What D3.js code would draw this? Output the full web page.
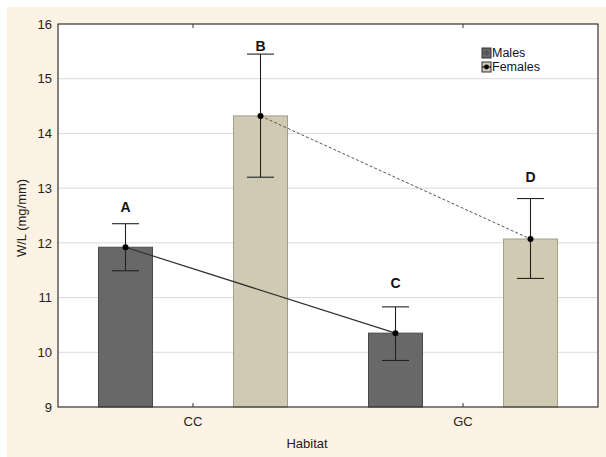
<!DOCTYPE html>
<html>
<head>
<meta charset="utf-8">
<script src="https://cdn.jsdelivr.net/npm/d3@7"></script>
<style>
	body { margin: 0; background: #fff; }
	text { font-family: "Liberation Sans", Arial, sans-serif; }
</style>
</head>
<body>
<div class="chart"></div>
<script>
// data
var habitats = ['CC', 'GC'];
var series = ['Males', 'Females'];
var maleMean = [11.92, 10.35];
var maleLow = [11.49, 9.85];
var maleHigh = [12.35, 10.83];
var femaleMean = [14.32, 12.07];
var femaleLow = [13.2, 11.35];
var femaleHigh = [15.45, 12.81];
var letters = [['A', 'C'], ['B', 'D']];
var letterAt = [[12.66, 11.27], [15.6, 13.2]];
var yTicks = [9, 10, 11, 12, 13, 14, 15, 16];

(function() {

	var width = 606,
		height = 457,
		pLeft = 58, pTop = 24, pRight = 598, pBottom = 407;

	var fills = ['#686868', '#d0cab2'],
		strokes = ['#4a4a4a', '#a39e88'];

	var svg = d3.select('.chart').append('svg')
		.attr('width', width)
		.attr('height', height);

	// cream background of the figure
	svg.append('rect')
		.attr('x', 7).attr('y', 7)
		.attr('width', width - 7).attr('height', height - 7)
		.attr('fill', '#fdf3e4');

	svg.append('rect')
		.attr('x', pLeft).attr('y', pTop)
		.attr('width', pRight - pLeft).attr('height', pBottom - pTop)
		.attr('fill', '#fff');

	var x = d3.scaleBand().domain(habitats).range([pLeft, pRight]).padding(0);
	var y = d3.scaleLinear().domain([9, 16]).range([pBottom, pTop]);
	var barW = x.bandwidth() * 0.2;
	var offset = x.bandwidth() / 4;

	function cx(sIdx, h) {
		return x(h) + x.bandwidth() / 2 + (sIdx === 0 ? -offset : offset);
	}

	// grid
	svg.append('g').selectAll('line')
		.data(yTicks.slice(1, -1))
		.enter().append('line')
		.attr('x1', pLeft).attr('x2', pRight)
		.attr('y1', y).attr('y2', y)
		.attr('stroke', '#dadada');

	var groups = [
		{means: maleMean, low: maleLow, high: maleHigh},
		{means: femaleMean, low: femaleLow, high: femaleHigh}
	];

	// bars
	groups.forEach(function(g, s) {
		svg.append('g').selectAll('rect')
			.data(habitats)
			.enter().append('rect')
			.attr('x', function(h) { return cx(s, h) - barW / 2; })
			.attr('width', barW)
			.attr('y', function(h, i) { return y(g.means[i]); })
			.attr('height', function(h, i) { return pBottom - y(g.means[i]); })
			.attr('fill', fills[s])
			.attr('stroke', strokes[s]);
	});

	// lines joining the means
	var line = d3.line()
		.x(function(d) { return d[0]; })
		.y(function(d) { return d[1]; });
	groups.forEach(function(g, s) {
		var pts = habitats.map(function(h, i) { return [cx(s, h), y(g.means[i])]; });
		svg.append('path')
			.attr('d', line(pts))
			.attr('fill', 'none')
			.attr('stroke', s === 0 ? '#333' : '#555')
			.attr('stroke-width', s === 0 ? 1.2 : 1)
			.attr('stroke-dasharray', s === 0 ? null : '3,2');
	});

	// error bars, points, letters
	groups.forEach(function(g, s) {
		habitats.forEach(function(h, i) {
			var px = cx(s, h), cap = barW / 4;
			var eg = svg.append('g').attr('stroke', '#222').attr('stroke-width', 1.1);
			eg.append('line').attr('x1', px).attr('x2', px)
				.attr('y1', y(g.low[i])).attr('y2', y(g.high[i]));
			eg.append('line').attr('x1', px - cap).attr('x2', px + cap)
				.attr('y1', y(g.low[i])).attr('y2', y(g.low[i]));
			eg.append('line').attr('x1', px - cap).attr('x2', px + cap)
				.attr('y1', y(g.high[i])).attr('y2', y(g.high[i]));
			svg.append('circle')
				.attr('cx', px).attr('cy', y(g.means[i]))
				.attr('r', 3).attr('fill', '#000');
			svg.append('text')
				.attr('x', px).attr('y', y(letterAt[s][i]))
				.attr('dy', '0.35em')
				.attr('text-anchor', 'middle')
				.style('font-size', '14px')
				.style('font-weight', 'bold')
				.attr('fill', '#111')
				.text(letters[s][i]);
		});
	});

	// axes
	var yAxis = svg.append('g')
		.attr('transform', 'translate(' + pLeft + ',0)')
		.call(d3.axisLeft(y).tickValues(yTicks).tickFormat(d3.format('d')).tickSize(0).tickPadding(6));
	yAxis.select('.domain').remove();
	yAxis.selectAll('text').style('font-size', '13px').attr('fill', '#222');

	var xAxis = svg.append('g')
		.attr('transform', 'translate(0,' + pBottom + ')')
		.call(d3.axisBottom(x).tickSizeInner(-4).tickSizeOuter(0).tickPadding(10));
	xAxis.select('.domain').remove();
	xAxis.selectAll('line').attr('stroke', '#333');
	xAxis.selectAll('text').style('font-size', '13px').attr('fill', '#222');

	var topAxis = svg.append('g')
		.attr('transform', 'translate(0,' + pTop + ')')
		.call(d3.axisTop(x).tickSizeInner(-4).tickSizeOuter(0).tickFormat(''));
	topAxis.select('.domain').remove();
	topAxis.selectAll('line').attr('stroke', '#333');

	// frame
	svg.append('rect')
		.attr('x', pLeft).attr('y', pTop)
		.attr('width', pRight - pLeft).attr('height', pBottom - pTop)
		.attr('fill', 'none')
		.attr('stroke', '#333')
		.attr('stroke-width', 1.2);

	// titles
	svg.append('text')
		.attr('x', 307).attr('y', 448)
		.attr('text-anchor', 'middle')
		.style('font-size', '13px')
		.attr('fill', '#222')
		.text('Habitat');
	svg.append('text')
		.attr('transform', 'translate(26,218) rotate(-90)')
		.attr('text-anchor', 'middle')
		.style('font-size', '13px')
		.attr('fill', '#222')
		.text('W/L (mg/mm)');

	// legend
	var legend = svg.append('g').attr('transform', 'translate(482,53)');
	series.forEach(function(name, s) {
		var row = legend.append('g').attr('transform', 'translate(0,' + (s * 14) + ')');
		row.append('rect')
			.attr('x', 0).attr('y', -5)
			.attr('width', 9).attr('height', 10)
			.attr('fill', fills[s]).attr('stroke', '#333');
		row.append('line')
			.attr('x1', 0).attr('x2', 9).attr('y1', 0).attr('y2', 0)
			.attr('stroke', s === 0 ? '#555' : '#000');
		row.append('circle')
			.attr('cx', 4.5).attr('cy', 0).attr('r', 2.4)
			.attr('fill', s === 0 ? '#555' : '#000');
		row.append('text')
			.attr('x', 10).attr('y', 0).attr('dy', '0.35em')
			.style('font-size', '12.5px')
			.attr('fill', '#111133')
			.text(name);
	});

})();
</script>
</body>
</html>
